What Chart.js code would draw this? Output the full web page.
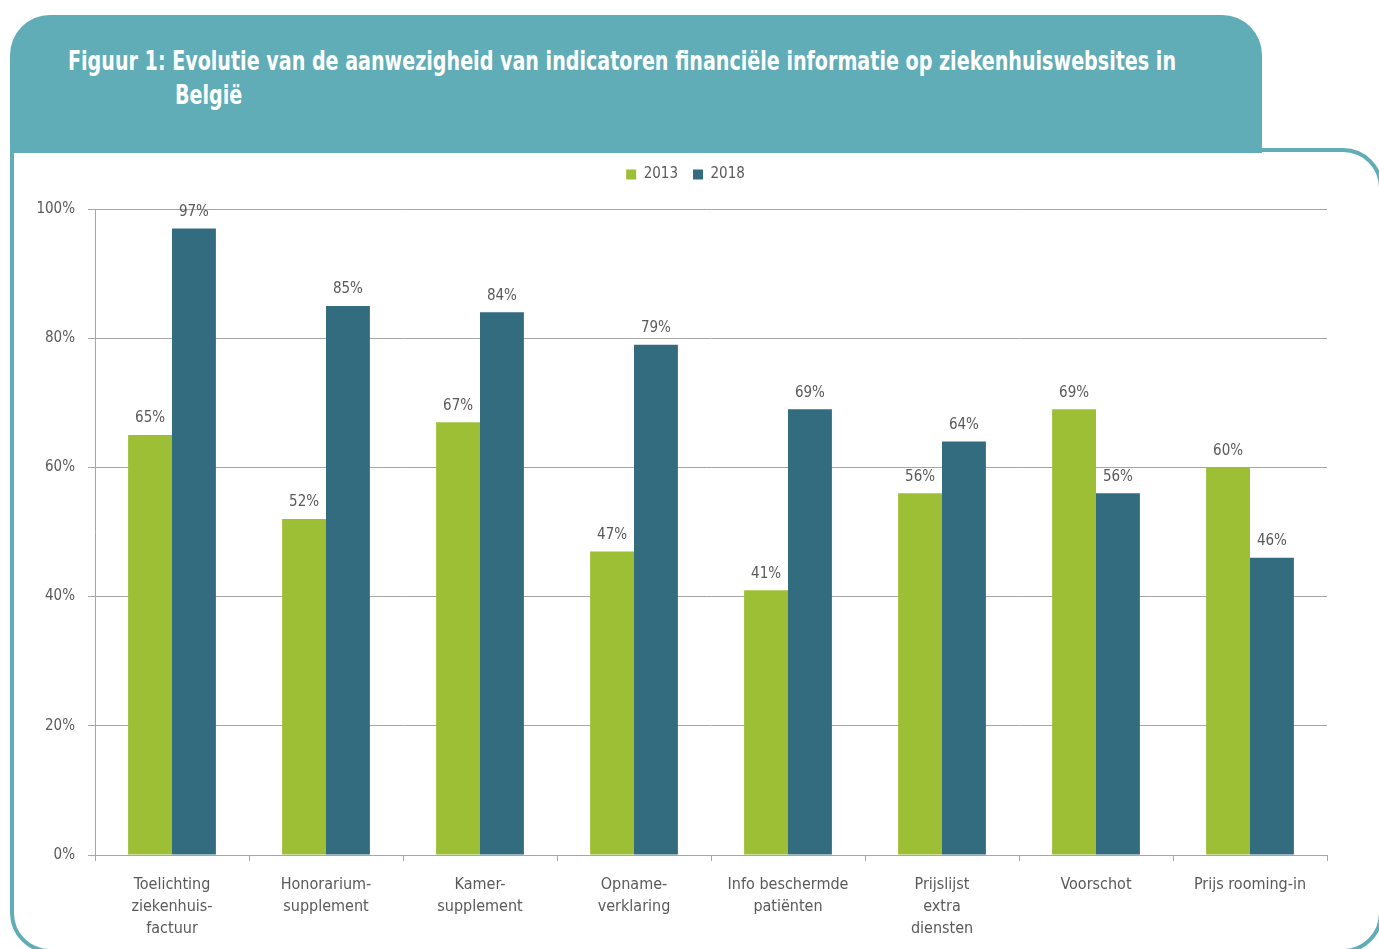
<!DOCTYPE html>
<html lang="nl">
<head>
<meta charset="utf-8">
<title>Figuur 1</title>
<script src="https://cdn.jsdelivr.net/npm/chart.js@4"></script>
<style>
  html, body { margin: 0; padding: 0; background: #ffffff; }
  body { width: 1379px; height: 949px; position: relative; overflow: hidden; }
  .panel {
    position: absolute; left: 10px; top: 148px; width: 1365px; height: 797px;
    border: 4px solid #60acb7; border-radius: 0 40px 40px 40px; background: #ffffff;
  }
  .header {
    position: absolute; left: 10px; top: 15px; width: 1252px; height: 138px;
    background: #60acb7; border-radius: 40px 40px 0 0;
  }
  .title {
    position: absolute; color: #ffffff; font-weight: bold; font-size: 26px;
    font-family: 'Liberation Sans Narrow', 'DejaVu Sans Condensed', 'Roboto', sans-serif;
    white-space: nowrap; line-height: 34px; transform-origin: 0 50%;
  }
  #chartWrap { position: absolute; left: 0; top: 0; width: 1379px; height: 949px; }
</style>
</head>
<body>
<div class="panel"></div>
<div class="header"></div>
<div class="title" id="t1" style="left:68px; top:44px;">Figuur 1: Evolutie van de aanwezigheid van indicatoren financiële informatie op ziekenhuiswebsites in</div>
<div class="title" id="t2" style="left:175px; top:78px;">België</div>
<div id="chartWrap"><canvas id="chart" width="1379" height="949"></canvas></div>
<script>
// Indicators shown on the category axis (line breaks as printed)
const categories = [
  ['Toelichting', 'ziekenhuis-', 'factuur'],
  ['Honorarium-', 'supplement'],
  ['Kamer-', 'supplement'],
  ['Opname-', 'verklaring'],
  ['Info beschermde', 'patiënten'],
  ['Prijslijst', 'extra', 'diensten'],
  ['Voorschot'],
  ['Prijs rooming-in']
];
const seriesNames = ['2013', '2018'];
// Share of hospital websites (%)
const values2013 = [65, 52, 67, 47, 41, 56, 69, 60];
const values2018 = [97, 85, 84, 79, 69, 64, 56, 46];
const yTicks = [0, 20, 40, 60, 80, 100];

const FONT = "'Liberation Sans Narrow', 'DejaVu Sans Condensed', 'Roboto', sans-serif";
const TEXT = '#595959';

// Fit the title lines to their printed widths
(function () {
  const t1 = document.getElementById('t1');
  const w = t1.getBoundingClientRect().width;
  const s = 1108 / w;
  t1.style.transform = 'scaleX(' + s + ')';
  document.getElementById('t2').style.transform = 'scaleX(' + s + ')';
})();

// Value labels above each bar
const valueLabels = {
  id: 'valueLabels',
  afterDatasetsDraw(chart) {
    const ctx = chart.ctx;
    ctx.save();
    ctx.font = '15px ' + FONT;
    ctx.fillStyle = TEXT;
    ctx.textAlign = 'center';
    ctx.textBaseline = 'bottom';
    chart.data.datasets.forEach((ds, di) => {
      chart.getDatasetMeta(di).data.forEach((bar, i) => {
        ctx.fillText(ds.data[i] + '%', bar.x, bar.y - 9);
      });
    });
    ctx.restore();
  }
};

// Extra room between legend and plot, and legend nudged right
const legendTweak = {
  id: 'legendTweak',
  afterInit(chart) {
    const lg = chart.legend;
    const fit = lg.fit;
    lg.fit = function () { fit.call(this); this.height += 17; };
    const draw = lg.draw;
    lg.draw = function () {
      const ctx = this.ctx;
      ctx.save();
      ctx.translate(22, 0);
      draw.apply(this, arguments);
      ctx.restore();
    };
  }
};

new Chart(document.getElementById('chart'), {
  type: 'bar',
  data: {
    labels: categories,
    datasets: [
      { label: seriesNames[0], data: values2013, backgroundColor: '#9dbf35' },
      { label: seriesNames[1], data: values2018, backgroundColor: '#336b7f' }
    ]
  },
  options: {
    responsive: false,
    animation: false,
    layout: { padding: { top: 152, right: 52, bottom: 0, left: 0 } },
    datasets: { bar: { categoryPercentage: 0.57, barPercentage: 1.0 } },
    plugins: {
      legend: {
        position: 'top',
        labels: {
          boxWidth: 10, boxHeight: 10, padding: 15, color: TEXT,
          font: { family: FONT, size: 15 }
        }
      },
      tooltip: { enabled: false }
    },
    scales: {
      x: {
        grid: { drawOnChartArea: false, drawTicks: true, tickLength: 6, color: '#a6a6a6', offset: true },
        border: { color: '#a6a6a6', width: 1 },
        ticks: {
          color: TEXT, padding: 13, maxRotation: 0, autoSkip: false,
          font: { family: FONT, size: 16, lineHeight: 1.375 }
        },
        afterFit(s) { s.height = 94; }
      },
      y: {
        min: 0, max: 100,
        afterBuildTicks(s) { s.ticks = yTicks.map(v => ({ value: v })); },
        grid: { color: '#a6a6a6', tickLength: 7, drawTicks: true },
        border: { color: '#a6a6a6', width: 1 },
        ticks: {
          color: TEXT, padding: 13,
          font: { family: FONT, size: 15 },
          callback: v => v + '%'
        },
        afterFit(s) { s.width = 95; }
      }
    }
  },
  plugins: [valueLabels, legendTweak]
});
</script>
</body>
</html>
